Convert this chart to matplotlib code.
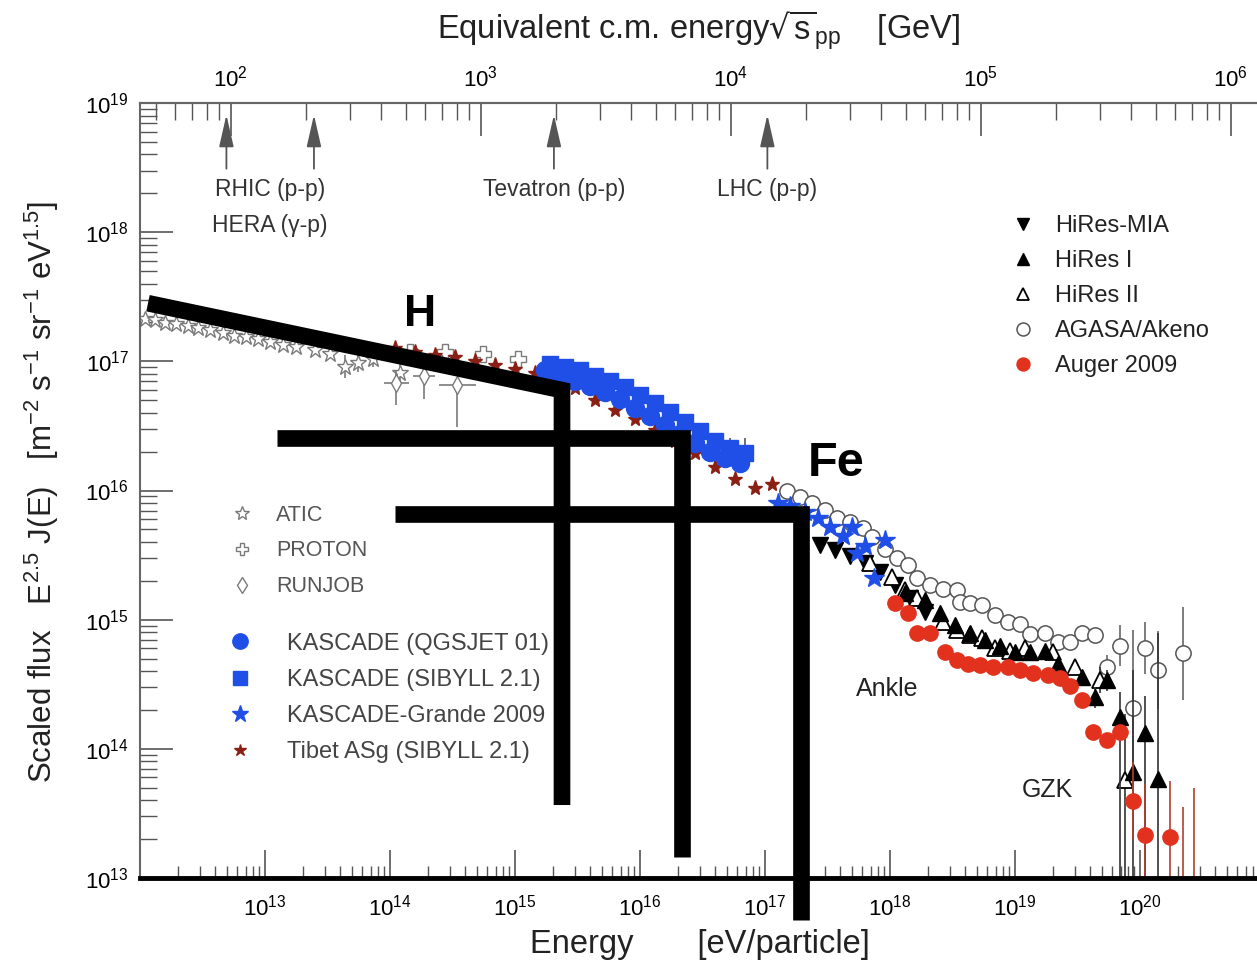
"""
Cosmic-ray all-particle spectrum, E^2.5 scaled, with knee sketches (H .. Fe).
"""
import numpy as np
import matplotlib
matplotlib.use("Agg")
import matplotlib.pyplot as plt
from matplotlib.ticker import NullFormatter

plt.rcParams["font.family"] = ["Liberation Sans", "DejaVu Sans"]
plt.rcParams["mathtext.default"] = "regular"

# ---- data, log10(E / eV) and log10(E^2.5 J) ----
atic_logE = [12.04, 12.12, 12.20, 12.29, 12.38, 12.46, 12.56, 12.66, 12.75, 12.85,
             12.94, 13.04, 13.14, 13.25, 13.40, 13.52, 13.64, 13.74, 13.86, 14.08]
atic_logJ = [17.33, 17.32, 17.30, 17.29, 17.27, 17.26, 17.24, 17.22, 17.20, 17.19,
             17.17, 17.15, 17.13, 17.11, 17.09, 17.06, 16.96, 16.99, 17.02, 16.91]
atic_err = [0, 0, 0, 0, 0, 0, 0, 0, 0, 0, 0, 0, 0, 0, 0, 0, 0.09, 0.07, 0.06, 0.08]

proton_logE = [14.16, 14.44, 14.74, 15.02]
proton_logJ = [17.07, 17.07, 17.06, 17.02]

runjob_logE = [14.05, 14.27, 14.54]
runjob_logJ = [16.83, 16.89, 16.82]
runjob_up = [0.10, 0.04, 0.05]
runjob_dn = [0.17, 0.18, 0.33]
runjob_xerr = [0.10, 0.09, 0.15]

tibet_logE = [14.04, 14.20, 14.36, 14.52, 14.68, 14.84, 15.00, 15.16, 15.32, 15.48,
              15.64, 15.80, 15.96, 16.12, 16.28, 16.44, 16.60, 16.76, 16.92, 17.06]
tibet_logJ = [17.10, 17.07, 17.05, 17.03, 17.00, 16.97, 16.94, 16.91, 16.86, 16.79,
              16.70, 16.62, 16.55, 16.47, 16.38, 16.29, 16.18, 16.09, 16.02, 16.05]

kq_logE = [15.24, 15.36, 15.48, 15.60, 15.72, 15.84, 15.96, 16.08, 16.20, 16.32,
           16.44, 16.56, 16.68, 16.80]
kq_logJ = [16.93, 16.89, 16.85, 16.81, 16.76, 16.71, 16.64, 16.58, 16.51, 16.44,
           16.37, 16.30, 16.25, 16.21]

ks_logE = [15.28, 15.40, 15.52, 15.64, 15.76, 15.88, 16.00, 16.12, 16.24, 16.36,
           16.48, 16.60, 16.72, 16.84]
ks_logJ = [16.98, 16.96, 16.93, 16.89, 16.85, 16.80, 16.74, 16.68, 16.61, 16.53,
           16.46, 16.38, 16.33, 16.29]
ks_err = [0, 0, 0, 0, 0, 0, 0, 0, 0, 0, 0, 0, 0.08, 0.12]

grande_logE = [17.10, 17.20, 17.32, 17.42, 17.52, 17.62, 17.70, 17.74, 17.80, 17.87, 17.96]
grande_logJ = [15.90, 15.88, 15.83, 15.79, 15.72, 15.65, 15.72, 15.52, 15.57, 15.32, 15.62]

mia_logE = [17.44, 17.56, 17.68, 17.80, 17.92, 18.04, 18.16, 18.28]
mia_logJ = [15.58, 15.54, 15.49, 15.44, 15.37, 15.27, 15.17, 15.06]

hr1_logE = [18.12, 18.28, 18.40, 18.52, 18.64, 18.76, 18.88, 19.00, 19.12, 19.24,
            19.34, 19.54, 19.64, 19.74, 19.84, 19.94, 20.04, 20.14]
hr1_logJ = [15.21, 15.15, 15.05, 14.96, 14.90, 14.84, 14.80, 14.75, 14.75, 14.76,
            14.66, 14.56, 14.40, 14.53, 14.25, 13.82, 14.12, 13.77]
hr1_up = [0, 0, 0, 0, 0, 0, 0, 0, 0, 0, 0, 0.05, 0.08, 0.08, 0.19, 0.79, 0.29, 1.13]
hr1_dn = [0, 0, 0, 0, 0, 0, 0, 0, 0, 0, 0, 0.05, 0.08, 0.08, 1.3, 0.9, 1.2, 0.9]

hr2_logE = [17.84, 18.02, 18.12, 18.22, 18.42, 18.54, 18.64, 18.74, 18.84, 18.96,
            19.08, 19.30, 19.48, 19.68, 19.88]
hr2_logJ = [15.44, 15.33, 15.23, 15.17, 14.98, 14.92, 14.88, 14.86, 14.78, 14.76,
            14.78, 14.75, 14.63, 14.53, 13.76]
hr2_up = [0, 0, 0, 0, 0, 0, 0, 0, 0, 0, 0, 0, 0.05, 0.10, 0.51]
hr2_dn = [0, 0, 0, 0, 0, 0, 0, 0, 0, 0, 0, 0, 0.05, 0.10, 0.9]

agasa_logE = [17.18, 17.28, 17.38, 17.48, 17.58, 17.68, 17.78, 17.86, 17.96, 18.06,
              18.14, 18.22, 18.32, 18.42, 18.54, 18.56, 18.64, 18.74, 18.84, 18.94,
              19.04, 19.12, 19.24, 19.34, 19.44, 19.54, 19.64, 19.74, 19.84, 19.94,
              20.04, 20.14, 20.34]
agasa_logJ = [16.00, 15.95, 15.90, 15.85, 15.79, 15.76, 15.71, 15.64, 15.55, 15.48,
              15.42, 15.32, 15.27, 15.24, 15.23, 15.14, 15.13, 15.11, 15.04, 14.98,
              14.97, 14.89, 14.90, 14.83, 14.83, 14.90, 14.88, 14.63, 14.80, 14.32,
              14.78, 14.61, 14.74]
agasa_err = [0] * 27 + [0.10, 0.16, 0.60, 0.20, 0.30, 0.36]

auger_logE = [18.04, 18.14, 18.22, 18.32, 18.44, 18.54, 18.62, 18.72, 18.82, 18.94,
              19.04, 19.14, 19.26, 19.36, 19.44, 19.54, 19.62, 19.74, 19.84, 19.94,
              20.04, 20.24, 20.34, 20.43]
auger_logJ = [15.13, 15.05, 14.90, 14.90, 14.75, 14.69, 14.66, 14.65, 14.63, 14.63,
              14.61, 14.59, 14.57, 14.55, 14.49, 14.38, 14.13, 14.07, 14.13, 13.60,
              13.33, 13.32, 12.90, 12.90]
auger_up = [0] * 19 + [0.30, 0.40, 0.43, 0.65, 0.80]
auger_dn = [0] * 19 + [0.30, 0.50, 0.50, 0.10, 0.10]

# collider energies (sqrt(s) in GeV) marked on the top axis
colliders = ["HERA", "RHIC", "Tevatron", "LHC"]
collider_sqrts = [96, 215, 1960, 14000]

# knee sketches: log10 E and log10 flux of the corner polylines
knee_H_logE = [12.064, 15.376, 15.376]
knee_H_logJ = [17.450, 16.777, 13.565]
knee_mid_logE = [13.096, 16.336, 16.336]
knee_mid_logJ = [16.406, 16.406, 13.163]
knee_Fe_logE = [14.04, 17.288, 17.288]
knee_Fe_logJ = [15.817, 15.817, 12.675]

x_decades = [13, 14, 15, 16, 17, 18, 19, 20]
sqrts_decades = [2, 3, 4, 5, 6]

M_P2 = 2 * 0.938  # GeV


def e_to_sqrts(E):
    E = np.clip(np.asarray(E, dtype=float), 1e-30, None)
    return np.sqrt(M_P2 * E / 1e9)


def sqrts_to_e(s):
    s = np.asarray(s, dtype=float)
    return s ** 2 / M_P2 * 1e9


def p(a):
    return 10.0 ** np.asarray(a, dtype=float)


def asym(val, up, dn):
    v = np.asarray(val, dtype=float)
    return [p(v) - p(v - np.asarray(dn)), p(v + np.asarray(up)) - p(v)]


fig = plt.figure(figsize=(12.57, 9.68), dpi=100)
W, H = 1257.0, 968.0
ax = fig.add_axes([140 / W, 90 / H, 1125 / W, 775 / H])
ax.set_xscale("log")
ax.set_yscale("log")
ax.set_xlim(1e12, 1e21)
ax.set_ylim(1e13, 1e19)

grey = "#7a7a7a"
blue = "#1f4fe6"
red = "#e2321e"
brown = "#8a2015"
ebar = dict(fmt="none", lw=1.2, capsize=0)

# low-energy direct measurements
ax.errorbar(p(atic_logE), p(atic_logJ), yerr=asym(atic_logJ, atic_err, atic_err),
            ecolor=grey, **ebar)
h_atic, = ax.plot(p(atic_logE), p(atic_logJ), ls="none", marker="*", ms=12,
                  mfc="white", mec=grey, mew=1.0, label="ATIC")
h_proton, = ax.plot(p(proton_logE), p(proton_logJ), ls="none", marker="P", ms=11,
                    mfc="white", mec=grey, mew=1.0, label="PROTON")
ax.errorbar(p(runjob_logE), p(runjob_logJ), yerr=asym(runjob_logJ, runjob_up, runjob_dn),
            xerr=asym(runjob_logE, runjob_xerr, runjob_xerr), ecolor=grey, **ebar)
h_runjob, = ax.plot(p(runjob_logE), p(runjob_logJ), ls="none", marker="d", ms=9,
                    mfc="white", mec=grey, mew=1.0, label="RUNJOB")

# air-shower arrays
h_tibet, = ax.plot(p(tibet_logE), p(tibet_logJ), ls="none", marker="*", ms=11,
                   color=brown, label="Tibet ASg (SIBYLL 2.1)")
ax.errorbar(p(ks_logE), p(ks_logJ), yerr=asym(ks_logJ, ks_err, ks_err), ecolor="#555", **ebar)
h_kq, = ax.plot(p(kq_logE), p(kq_logJ), ls="none", marker="o", ms=13,
                color=blue, label="KASCADE (QGSJET 01)")
h_ks, = ax.plot(p(ks_logE), p(ks_logJ), ls="none", marker="s", ms=12,
                color=blue, label="KASCADE (SIBYLL 2.1)")

ax.errorbar(p(agasa_logE), p(agasa_logJ), yerr=asym(agasa_logJ, agasa_err, agasa_err),
            ecolor="#666", **ebar)
h_agasa, = ax.plot(p(agasa_logE), p(agasa_logJ), ls="none", marker="o", ms=11,
                   mfc="white", mec="#555", mew=1.1, label="AGASA/Akeno")
h_mia, = ax.plot(p(mia_logE), p(mia_logJ), ls="none", marker="v", ms=11,
                 color="black", label="HiRes-MIA")
ax.errorbar(p(hr2_logE), p(hr2_logJ), yerr=asym(hr2_logJ, hr2_up, hr2_dn), ecolor="#333", **ebar)
h_hr2, = ax.plot(p(hr2_logE), p(hr2_logJ), ls="none", marker="^", ms=11,
                 mfc="white", mec="black", mew=1.3, label="HiRes II")
ax.errorbar(p(hr1_logE), p(hr1_logJ), yerr=asym(hr1_logJ, hr1_up, hr1_dn), ecolor="#333", **ebar)
h_hr1, = ax.plot(p(hr1_logE), p(hr1_logJ), ls="none", marker="^", ms=11,
                 color="black", label="HiRes I")
h_grande, = ax.plot(p(grande_logE), p(grande_logJ), ls="none", marker="*", ms=15,
                    color=blue, label="KASCADE-Grande 2009")
ax.errorbar(p(auger_logE), p(auger_logJ), yerr=asym(auger_logJ, auger_up, auger_dn),
            ecolor="#b04030", **ebar)
h_auger, = ax.plot(p(auger_logE), p(auger_logJ), ls="none", marker="o", ms=11,
                   color=red, label="Auger 2009")

# knee sketches
for lx, ly in [(knee_H_logE, knee_H_logJ), (knee_mid_logE, knee_mid_logJ),
               (knee_Fe_logE, knee_Fe_logJ)]:
    ax.plot(p(lx), p(ly), color="black", lw=12, solid_joinstyle="miter",
            solid_capstyle="butt", clip_on=False, zorder=10)

ax.text(p(14.24), p(17.36), "H", fontsize=32, fontweight="bold", ha="center", va="center", zorder=11)
ax.text(p(17.57), p(16.21), "Fe", fontsize=35, fontweight="bold", ha="center", va="center", zorder=11)
ax.text(p(17.98), p(14.46), "Ankle", fontsize=18, ha="center", va="center", color="#222")
ax.text(p(19.26), p(13.68), "GZK", fontsize=18, ha="center", va="center", color="#222")

# collider arrows
for name, s in zip(colliders, collider_sqrts):
    E = sqrts_to_e(s)
    ax.annotate("", xy=(E, p(18.93)), xytext=(E, p(18.47)),
                arrowprops=dict(arrowstyle="-|>,head_width=0.25,head_length=1.1",
                                color="#555", lw=1.3, mutation_scale=18))
e_pair = np.sqrt(sqrts_to_e(collider_sqrts[0]) * sqrts_to_e(collider_sqrts[1]))
lab_kw = dict(fontsize=16.5, ha="center", va="center", color="#333")
ax.text(e_pair, p(18.33), "RHIC (p-p)", **lab_kw)
ax.text(e_pair, p(18.05), "HERA (\u03b3-p)", **lab_kw)
ax.text(sqrts_to_e(collider_sqrts[2]), p(18.33), "Tevatron (p-p)", **lab_kw)
ax.text(sqrts_to_e(collider_sqrts[3]), p(18.33), "LHC (p-p)", **lab_kw)

# axes styling
for side in ["top", "left"]:
    ax.spines[side].set_color("#666")
    ax.spines[side].set_linewidth(1.5)
ax.spines["bottom"].set_linewidth(3.5)
ax.spines["right"].set_visible(False)
ax.set_xticks([10.0 ** d for d in x_decades])
ax.tick_params(axis="x", which="major", direction="in", length=20, width=1.2,
               color="#555", labelsize=16, pad=12, top=False)
ax.tick_params(axis="x", which="minor", direction="in", length=9, width=1.0,
               color="#555", top=False)
ax.tick_params(axis="y", which="major", direction="in", length=24, width=1.2,
               color="#555", labelsize=16, pad=8, right=False)
ax.tick_params(axis="y", which="minor", direction="in", length=12, width=1.0,
               color="#555", right=False)
ax.xaxis.set_minor_formatter(NullFormatter())
ax.yaxis.set_minor_formatter(NullFormatter())

sec = ax.secondary_xaxis("top", functions=(e_to_sqrts, sqrts_to_e))
sec.set_xticks([10.0 ** d for d in sqrts_decades])
sec.spines["top"].set_color("#666")
sec.spines["top"].set_linewidth(1.5)
sec.tick_params(which="major", direction="in", length=24, width=1.2, color="#555",
                labelsize=16, pad=8)
sec.tick_params(which="minor", direction="in", length=12, width=1.0, color="#555")
sec.xaxis.set_minor_formatter(NullFormatter())

fig.text(699 / W, 1 - 30 / H, r"Equivalent c.m. energy$\sqrt{s}_{pp}$    [GeV]",
         fontsize=23.5, ha="center", va="center", color="#222")
fig.text(700 / W, 1 - 945 / H, "Energy       [eV/particle]", fontsize=23.5,
         ha="center", va="center", color="#222")
fig.text(42 / W, 1 - 492 / H,
         r"Scaled flux   E$^{2.5}$ J(E)   [m$^{-2}$ s$^{-1}$ sr$^{-1}$ eV$^{1.5}$]",
         fontsize=22.5, rotation=90, ha="center", va="center", color="#222")

# legends
leg1 = ax.legend(handles=[h_atic, h_proton, h_runjob], loc="center left",
                 bbox_to_anchor=(231 / W, 1 - 551 / H), bbox_transform=fig.transFigure,
                 frameon=False, fontsize=15.5, handlelength=1.0, handletextpad=1.1,
                 labelspacing=0.68, borderpad=0, borderaxespad=0, labelcolor="#555",
                 markerscale=0.85)
ax.add_artist(leg1)
leg2 = ax.legend(handles=[h_kq, h_ks, h_grande, h_tibet], loc="center left",
                 bbox_to_anchor=(228 / W, 1 - 698 / H), bbox_transform=fig.transFigure,
                 frameon=False, fontsize=17, handlelength=1.0, handletextpad=1.5,
                 labelspacing=0.6, borderpad=0, borderaxespad=0, labelcolor="#444",
                 markerscale=0.85)
ax.add_artist(leg2)
leg3 = ax.legend(handles=[h_mia, h_hr1, h_hr2, h_agasa, h_auger], loc="center left",
                 bbox_to_anchor=(1011 / W, 1 - 296 / H), bbox_transform=fig.transFigure,
                 frameon=False, fontsize=17, handlelength=1.0, handletextpad=0.85,
                 labelspacing=0.55, borderpad=0, borderaxespad=0, labelcolor="#222",
                 markerscale=0.85)

fig.savefig("out.png", dpi=100)
